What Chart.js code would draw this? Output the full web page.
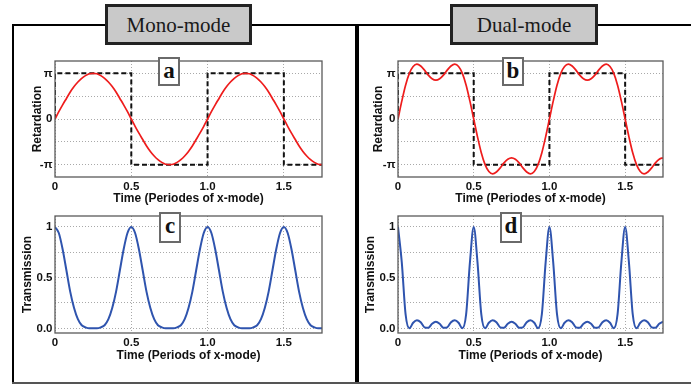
<!DOCTYPE html>
<html><head><meta charset="utf-8">
<script src="https://cdn.jsdelivr.net/npm/chart.js@4.4.0/dist/chart.umd.min.js"></script>
<style>
html,body{margin:0;padding:0;background:#fff;}
#wrap{position:relative;width:691px;height:384px;overflow:hidden;background:#fff;}
.ln{position:absolute;background:#000;}
canvas{position:absolute;}
.ttl{position:absolute;box-sizing:border-box;border:3px solid #222;background:#c9c9c9;font-family:"Liberation Serif","Times New Roman",serif;font-size:21px;color:#1a1a1a;text-align:center;line-height:36px;}
.lbl{position:absolute;box-sizing:border-box;border:2px solid #6a6a6a;background:#fff;font-family:"Liberation Serif","Times New Roman",serif;font-weight:bold;font-size:23px;color:#111;text-align:center;line-height:24px;}
</style></head>
<body><div id="wrap">
<div class="ln" style="left:12px;top:24px;width:679px;height:2px"></div>
<div class="ln" style="left:12px;top:24px;width:2px;height:360px"></div>
<div class="ln" style="left:355px;top:24px;width:4px;height:360px"></div>
<div class="ln" style="left:12px;top:382px;width:679px;height:2px;background:#555"></div>
<canvas id="ca" width="318" height="158" style="left:14px;top:48px"></canvas>
<canvas id="cb" width="313" height="158" style="left:360px;top:48px"></canvas>
<canvas id="cc" width="318" height="158" style="left:14px;top:205px"></canvas>
<canvas id="cd" width="313" height="158" style="left:360px;top:205px"></canvas>
<div class="ttl" style="left:105px;top:4px;width:147px;height:41px">Mono-mode</div>
<div class="ttl" style="left:450px;top:4px;width:148px;height:41px">Dual-mode</div>
<div class="lbl" style="left:158px;top:57px;width:22px;height:29px">a</div>
<div class="lbl" style="left:502px;top:57px;width:22px;height:29px">b</div>
<div class="lbl" style="left:159px;top:212px;width:22px;height:31px">c</div>
<div class="lbl" style="left:500px;top:212px;width:22px;height:31px">d</div>
</div>
<script>
// Time axis (periods of x-mode)
const time = [0,0.025,0.05,0.075,0.1,0.125,0.15,0.175,0.2,0.225,0.25,0.275,0.3,0.325,0.35,0.375,0.4,0.425,0.45,0.475,0.5,0.525,0.55,0.575,0.6,0.625,0.65,0.675,0.7,0.725,0.75,0.775,0.8,0.825,0.85,0.875,0.9,0.925,0.95,0.975,1,1.025,1.05,1.075,1.1,1.125,1.15,1.175,1.2,1.225,1.25,1.275,1.3,1.325,1.35,1.375,1.4,1.425,1.45,1.475,1.5,1.525,1.55,1.575,1.6,1.625,1.65,1.675,1.7,1.725,1.75];
// Retardation in units of pi
const retMono = [0,.16,.31,.45,.59,.71,.81,.89,.95,.99,1, .99,.95,.89,.81,.71,.59,.45,.31,.16,0, -.16,-.31,-.45,-.59,-.71,-.81,-.89,-.95,-.99,-1, -.99,-.95,-.89,-.81,-.71,-.59,-.45,-.31,-.16,0, .16,.31,.45,.59,.71,.81,.89,.95,.99,1, .99,.95,.89,.81,.71,.59,.45,.31,.16,0, -.16,-.31,-.45,-.59,-.71,-.81,-.89,-.95,-.99,-1];
const retDual = [0,.39,.74,1.0,1.15,1.2,1.16,1.07,.96,.88,.85, .88,.96,1.07,1.16,1.2,1.15,1.0,.74,.39,0, -.39,-.74,-1.0,-1.15,-1.2,-1.16,-1.07,-.96,-.88,-.85, -.88,-.96,-1.07,-1.16,-1.2,-1.15,-1.0,-.74,-.39,0, .39,.74,1.0,1.15,1.2,1.16,1.07,.96,.88,.85, .88,.96,1.07,1.16,1.2,1.15,1.0,.74,.39,0, -.39,-.74,-1.0,-1.15,-1.2,-1.16,-1.07,-.96,-.88,-.85];
// Square-wave (dashed) retardation
const sqTime = [0,0,0.5,0.5,1,1,1.5,1.5,1.75];
const sqRet = [0,1,1,-1,-1,1,1,-1,-1];
// Transmission
const transMono = [1,.94,.78,.57,.36,.2,.09,.03,.01,0,0, 0,.01,.03,.09,.2,.36,.57,.78,.94,1, .94,.78,.57,.36,.2,.09,.03,.01,0,0, 0,.01,.03,.09,.2,.36,.57,.78,.94,1, .94,.78,.57,.36,.2,.09,.03,.01,0,0, 0,.01,.03,.09,.2,.36,.57,.78,.94,1, .94,.78,.57,.36,.2,.09,.03,.01,0,0];
const transDual = [1,.65,.14,0,.055,.08,.06,.01,.005,.045,.065, .045,.005,.01,.06,.08,.055,0,.14,.65,1, .65,.14,0,.055,.08,.06,.01,.005,.045,.065, .045,.005,.01,.06,.08,.055,0,.14,.65,1, .65,.14,0,.055,.08,.06,.01,.005,.045,.065, .045,.005,.01,.06,.08,.055,0,.14,.65,1, .65,.14,0,.055,.08,.06,.01,.005,.045,.065];
// Tick definitions
const xTicks = [0,0.5,1,1.5];
const retTicks = [-1,-0.5,0,0.5,1];
const retTickLabels = {'-1':'-\u03c0','0':'0','1':'\u03c0'};
const transTicks = [0,0.25,0.5,0.75,1];
const transTickLabels = {'0':'0.0','0.5':'0.5','1':'1'};

const SANS = '"Liberation Sans", Arial, sans-serif';
const pts = (xs, ys) => xs.map((x,i)=>({x:x,y:ys[i]}));

const frameBox = {
  id:'frameBox',
  afterDraw(chart){
    const {ctx, chartArea:a} = chart;
    ctx.save(); ctx.strokeStyle='#5a5a5a'; ctx.lineWidth=1.3;
    ctx.strokeRect(a.left, a.top, a.right-a.left, a.bottom-a.top);
    ctx.restore();
  }
};

function panel(id, g, datasets, ys) {
  new Chart(document.getElementById(id), {
    type:'line',
    data:{datasets:datasets},
    plugins:[frameBox],
    options:{
      responsive:false, animation:false, events:[],
      layout:{padding:{top:g.pt, right:g.pr, left:0, bottom:0}},
      plugins:{legend:{display:false}, tooltip:{enabled:false}},
      elements:{point:{radius:0}},
      scales:{
        x:{type:'linear', min:0, max:1.75,
          afterBuildTicks:ax=>{ax.ticks = xTicks.map(v=>({value:v}));},
          afterFit:ax=>{ax.height = g.xh;},
          ticks:{autoSkip:false, maxRotation:0, padding:3, color:'#111',
            font:{family:SANS, size:11.5, weight:'bold'},
            callback:v=> v===0 ? '0' : Number(v).toFixed(1)},
          grid:{color:'#a9a9a9', lineWidth:1, drawTicks:false},
          border:{display:false, dash:[1,2]},
          title:{display:true, text:g.xt, color:'#111', padding:{top:0,bottom:0},
            font:{family:SANS, size:12, weight:'bold'}}
        },
        y:{type:'linear', min:ys.min, max:ys.max,
          afterBuildTicks:ax=>{ax.ticks = ys.ticks.map(v=>({value:v}));},
          afterFit:ax=>{ax.width = g.yw;},
          ticks:{autoSkip:false, padding:2.5, color:'#111',
            font:{family:SANS, size:11.5, weight:'bold'},
            callback:v=> (ys.labels[String(v)] !== undefined ? ys.labels[String(v)] : '')},
          grid:{color:'#a9a9a9', lineWidth:1, drawTicks:false},
          border:{display:false, dash:[1,2]},
          title:{display:true, text:ys.title, color:'#111', padding:{top:g.ytp,bottom:0},
            font:{family:SANS, size:12, weight:'bold'}}
        }
      }
    }
  });
}

const retY = {min:-1.27, max:1.27, ticks:retTicks, labels:retTickLabels, title:'Retardation'};
const trY = {min:-0.046, max:1.108, ticks:transTicks, labels:transTickLabels, title:'Transmission'};

const red = d => ({data:d, borderColor:'#ee1c1c', borderWidth:1.7, cubicInterpolationMode:'monotone', fill:false});
const dash = () => ({data:pts(sqTime, sqRet), borderColor:'#111', borderWidth:2, borderDash:[5,3], tension:0, fill:false});
const blue = d => ({data:d, borderColor:'#2f54ae', borderWidth:2, cubicInterpolationMode:'monotone', fill:false});

panel('ca', {pt:13, pr:10, xh:29, yw:41, ytp:16.3, xt:'Time (Periodes of x-mode)'},
  [red(pts(time, retMono)), dash()], retY);
panel('cb', {pt:13, pr:10, xh:29, yw:38, ytp:11.3, xt:'Time (Periodes of x-mode)'},
  [red(pts(time, retDual)), dash()], retY);
panel('cc', {pt:11, pr:10, xh:30, yw:41, ytp:6.3, xt:'Time (Periods of x-mode)'},
  [blue(pts(time, transMono))], trY);
panel('cd', {pt:11, pr:10, xh:30, yw:38, ytp:3.3, xt:'Time (Periods of x-mode)'},
  [blue(pts(time, transDual))], trY);
</script>
</body></html>
